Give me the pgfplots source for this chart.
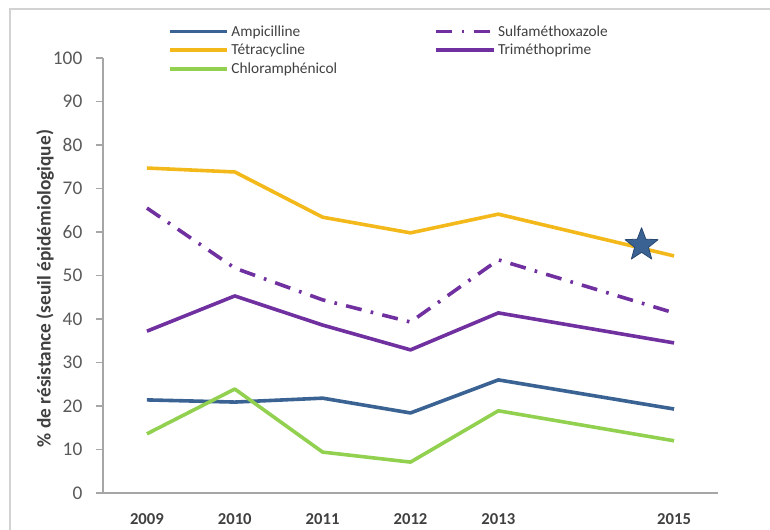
\documentclass[border=0pt]{standalone}
\usepackage{fontspec}
\setmainfont{Carlito}
\usepackage{pgfplots}
\pgfplotsset{compat=1.18}

\definecolor{ampi}{HTML}{3A6393}
\definecolor{tetra}{HTML}{F3B81A}
\definecolor{chloro}{HTML}{92D050}
\definecolor{violet}{HTML}{7030A0}
\definecolor{axisgray}{HTML}{A6A6A6}
\definecolor{txtgray}{HTML}{404040}
\definecolor{tickgray}{HTML}{595959}
\definecolor{stardark}{HTML}{27466F}

% five-pointed filled star
\pgfdeclareplotmark{fstar}{%
  \pgfpathmoveto{\pgfpointpolar{90}{\pgfplotmarksize}}%
  \pgfpathlineto{\pgfpointpolar{126}{0.42\pgfplotmarksize}}%
  \pgfpathlineto{\pgfpointpolar{162}{\pgfplotmarksize}}%
  \pgfpathlineto{\pgfpointpolar{198}{0.42\pgfplotmarksize}}%
  \pgfpathlineto{\pgfpointpolar{234}{\pgfplotmarksize}}%
  \pgfpathlineto{\pgfpointpolar{270}{0.42\pgfplotmarksize}}%
  \pgfpathlineto{\pgfpointpolar{306}{\pgfplotmarksize}}%
  \pgfpathlineto{\pgfpointpolar{342}{0.42\pgfplotmarksize}}%
  \pgfpathlineto{\pgfpointpolar{18}{\pgfplotmarksize}}%
  \pgfpathlineto{\pgfpointpolar{54}{0.42\pgfplotmarksize}}%
  \pgfpathclose
  \pgfusepathqfillstroke
}

\begin{document}
\begin{tikzpicture}[x=0.75pt,y=0.75pt]
\path[use as bounding box] (0,0) rectangle (770,530);
\draw[gray!35, line width=1.5pt] (10,0) -- (10,521) -- (770,521);
\begin{axis}[
    at={(77.25pt,27.75pt)}, anchor=south west,
    scale only axis,
    width=461.25pt, height=326.25pt,
    xmin=2008.5, xmax=2015.5,
    ymin=0, ymax=100,
    axis x line*=bottom, axis y line*=left,
    axis line style={axisgray, line width=0.8pt},
    xtick={2009,2010,2011,2012,2013,2015},
    xticklabels={2009,2010,2011,2012,2013,2015},
    x tick style={draw=none},
    ytick={0,10,...,100},
    y tick style={axisgray, line width=0.8pt},
    tick align=outside,
    major tick length=5pt,
    /pgf/number format/assume math mode=true,
    yticklabel style={font=\fontsize{14.5}{16}\selectfont, text=tickgray, xshift=-7pt},
    xticklabel style={font=\bfseries\fontsize{12.5}{14}\selectfont, text=txtgray, yshift=-7pt},
    ylabel={\% de résistance (seuil épidémiologique)},
    ylabel style={font=\bfseries\fontsize{14.5}{16}\selectfont, text=txtgray,
        at={(axis description cs:-0.094,0.47)}, anchor=center},
    legend columns=2,
    legend cell align=left,
    legend style={at={(axis description cs:0.105,1.083)}, anchor=north west,
        draw=none, fill=none, font=\fontsize{11.5}{13}\selectfont, text=txtgray,
        row sep=0pt, inner sep=0pt,
        cells={inner sep=1pt, text height=8.5pt, text depth=2.5pt}},
    /tikz/every even column/.append style={column sep=71pt},
    legend image code/.code={\draw[#1] (0pt,0pt) -- (43pt,0pt);},
    line join=round,
]
\addplot[ampi, line width=2.7pt] coordinates {
    (2009,21.4) (2010,20.9) (2011,21.8) (2012,18.4) (2013,26.0) (2015,19.3)};
\addlegendentry{Ampicilline}
\addplot[violet, line width=2.7pt, dash pattern=on 12pt off 7pt on 2pt off 7pt] coordinates {
    (2009,65.5) (2010,51.7) (2011,44.4) (2012,39.3) (2013,53.6) (2015,41.4)};
\addlegendentry{Sulfaméthoxazole}
\addplot[tetra, line width=2.7pt] coordinates {
    (2009,74.7) (2010,73.8) (2011,63.4) (2012,59.8) (2013,64.1) (2015,54.5)};
\addlegendentry{Tétracycline}
\addplot[violet, line width=2.7pt] coordinates {
    (2009,37.2) (2010,45.3) (2011,38.6) (2012,32.9) (2013,41.4) (2015,34.5)};
\addlegendentry{Triméthoprime}
\addplot[chloro, line width=2.7pt] coordinates {
    (2009,13.6) (2010,23.9) (2011,9.4) (2012,7.1) (2013,18.9) (2015,12.0)};
\addlegendentry{Chloramphénicol}
\addplot[only marks, mark=fstar, mark size=13pt,
    mark options={fill=ampi, draw=stardark, line width=0.6pt}, forget plot]
    coordinates {(2014.63,57.0)};
\end{axis}
\end{tikzpicture}
\end{document}
